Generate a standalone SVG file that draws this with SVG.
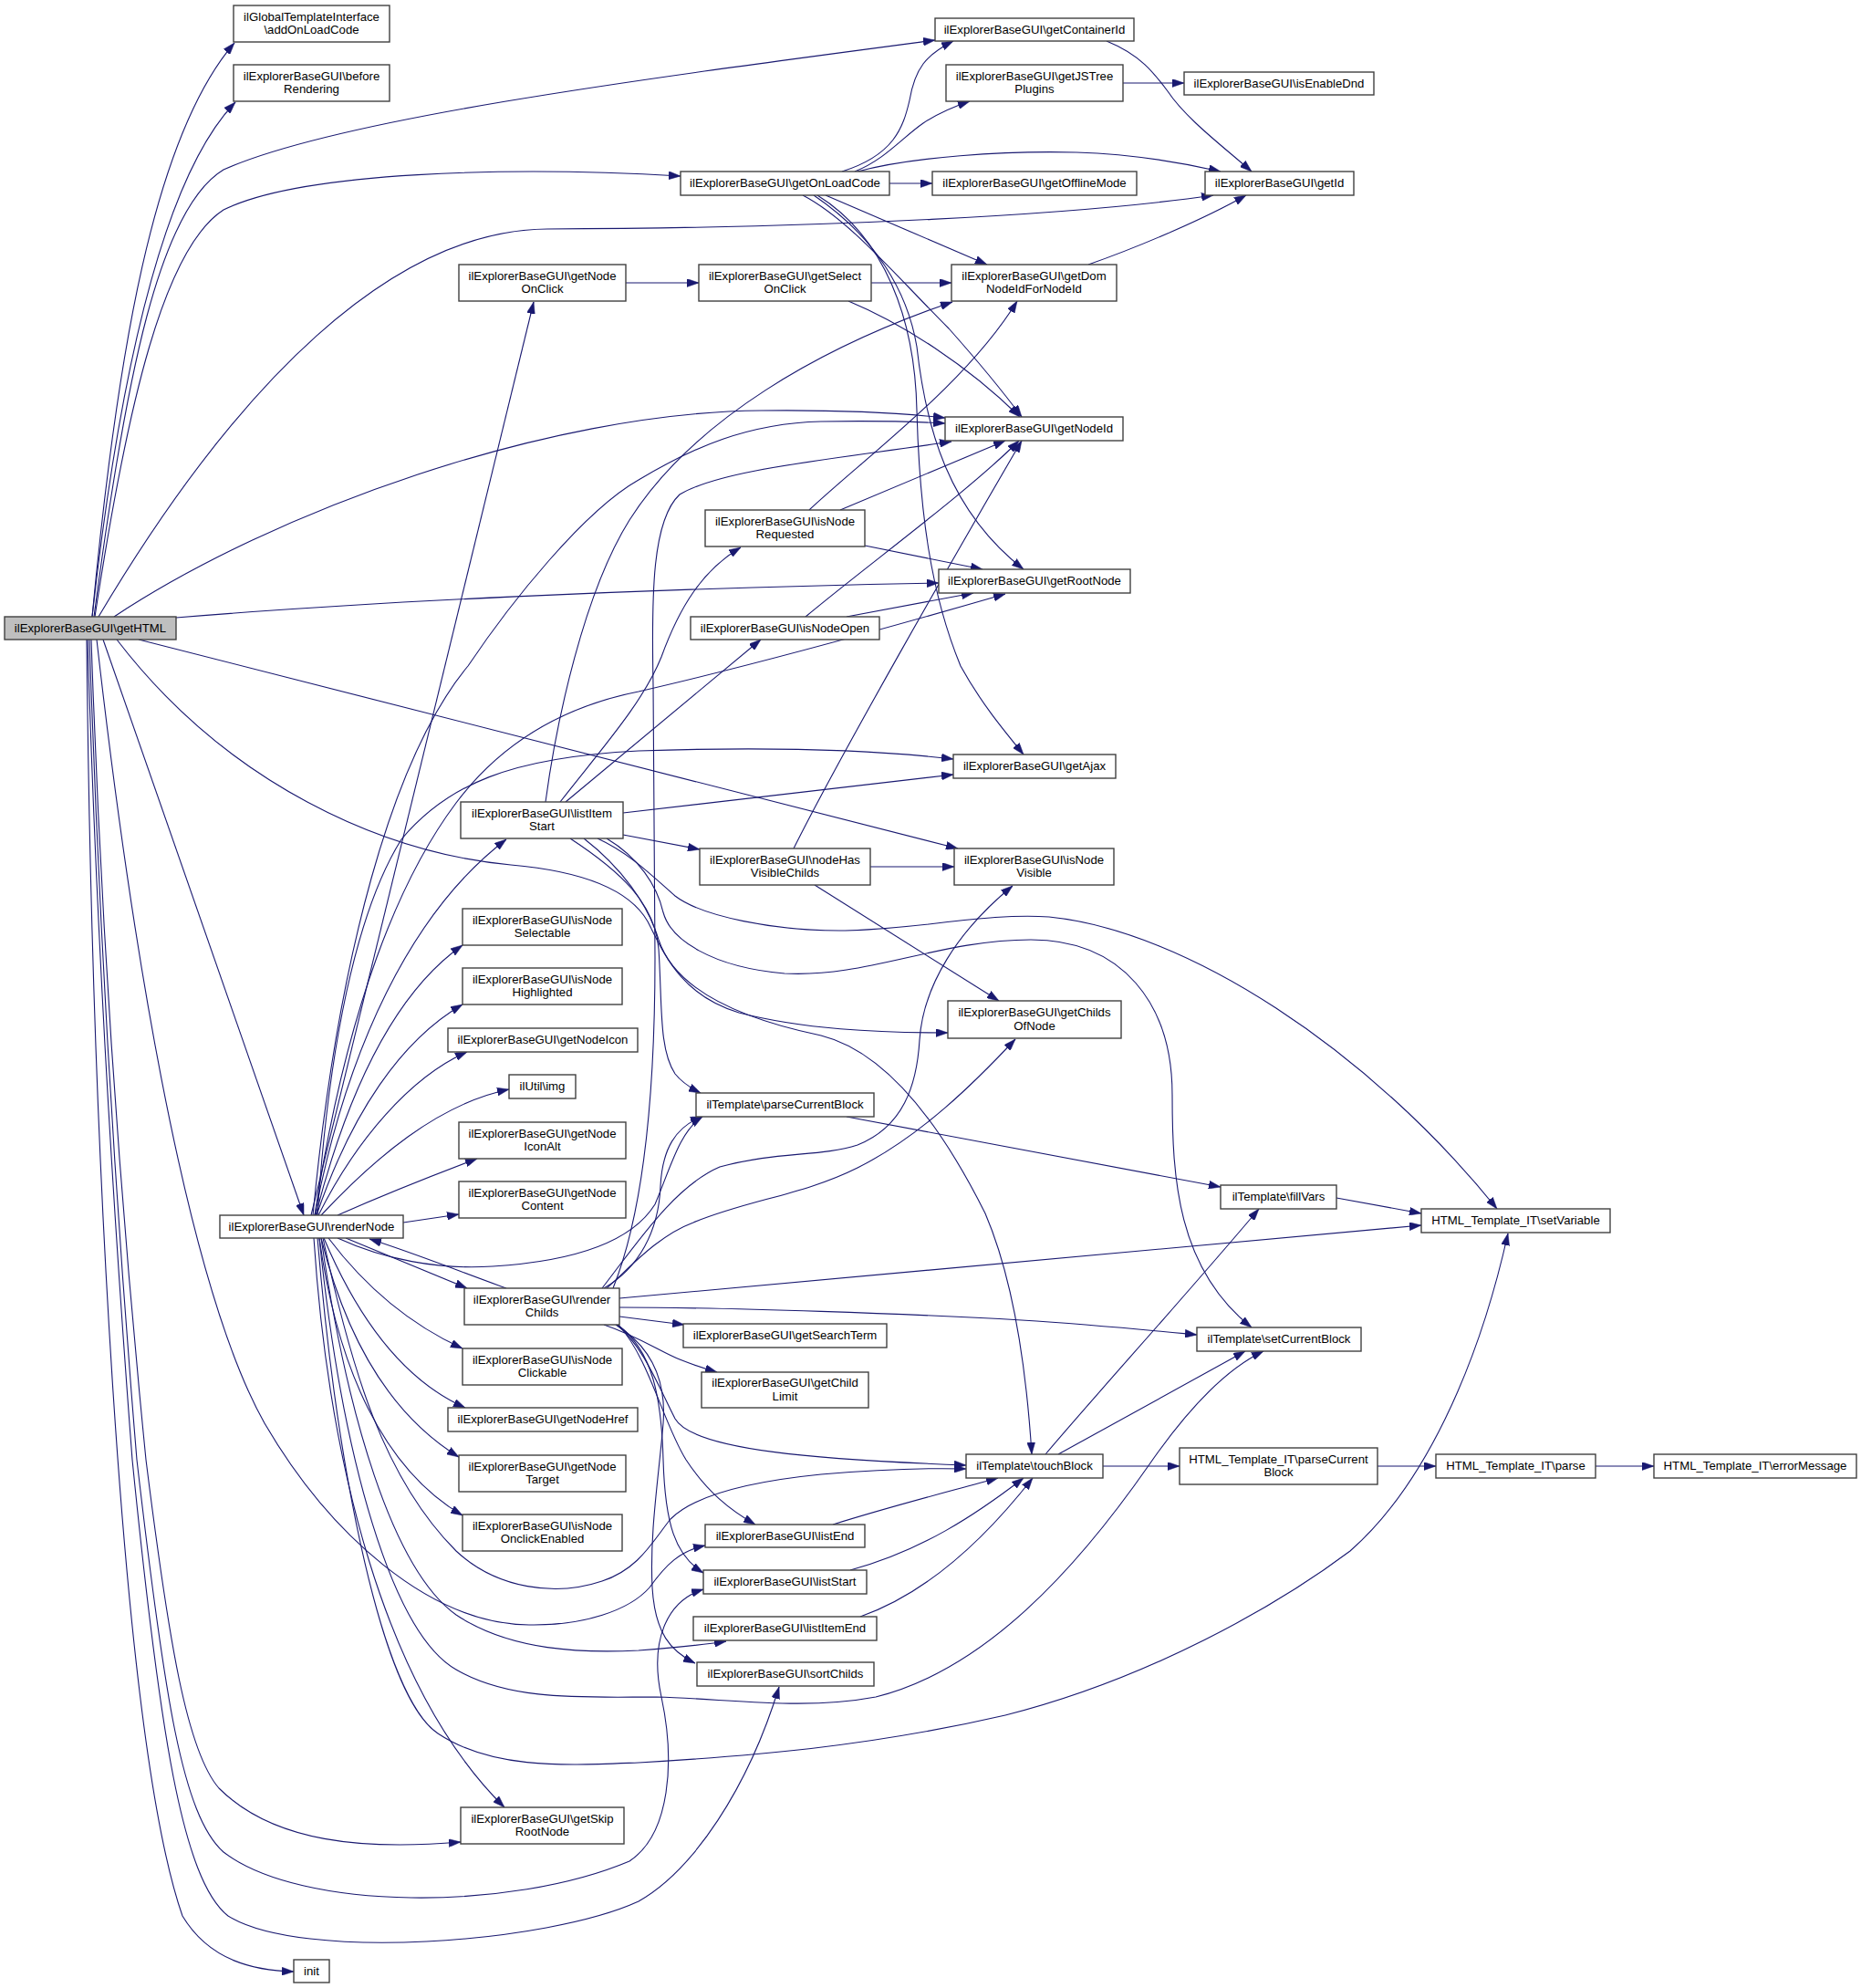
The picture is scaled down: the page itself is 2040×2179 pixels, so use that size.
<svg xmlns="http://www.w3.org/2000/svg" width="2040" height="2179" viewBox="0 0 2040 2179">
<style>
.n rect{fill:#ffffff;stroke:#404040;stroke-width:1.4}
.n.root rect{fill:#bfbfbf}
.n text{font-family:"Liberation Sans",Arial,Helvetica,sans-serif;font-size:13.2px;text-anchor:middle;fill:#000000}
#edges path{fill:none;stroke:#191970;stroke-width:1.1;marker-end:url(#arr)}
</style>
<defs>
<marker id="arr" markerUnits="userSpaceOnUse" markerWidth="13" markerHeight="9" refX="13" refY="4.5" orient="auto">
<path d="M0,0 L13,4.5 L0,9 Z" fill="#191970" stroke="#191970" stroke-width="0.5"/>
</marker>
</defs>
<rect width="2040" height="2179" fill="#ffffff"/>
<g id="edges">
<path d="M101,676 C128,390 168,150 257,47"/>
<path d="M101,676 C124,470 168,205 258,112"/>
<path d="M103,676 C138,410 175,228 245,186 C370,130 700,87 1025,44"/>
<path d="M104,676 C140,440 180,272 245,230 C330,188 560,182 746,193"/>
<path d="M108,676 C260,420 430,252 600,251 C900,250 1180,236 1330,214"/>
<path d="M125,676 C300,560 600,452 834,450 C920,449 990,453 1036,458"/>
<path d="M193,677 C400,660 700,645 1029,639"/>
<path d="M152,701 L1050,930"/>
<path d="M113,701 L333,1332"/>
<path d="M128,701 C250,860 420,935 560,948 C640,955 690,975 710,1010 C728,1045 745,1090 810,1110 C880,1128 960,1132 1039,1132"/>
<path d="M100,701 C110,1000 130,1300 160,1600 C185,1800 205,1920 240,1960 C300,2020 400,2028 505,2019"/>
<path d="M98,701 C108,1000 125,1300 150,1600 C180,1860 200,1990 245,2030 C330,2095 560,2095 690,2040 C735,2010 740,1930 725,1860 C712,1800 730,1755 771,1742"/>
<path d="M96,701 C105,1000 122,1300 145,1600 C175,1900 200,2060 250,2100 C330,2150 600,2130 700,2084 C760,2050 820,1960 854,1849"/>
<path d="M95,701 C100,1200 130,1900 200,2100 C230,2150 280,2160 322,2161"/>
<path d="M106,701 C140,1000 200,1400 290,1560 C360,1680 470,1780 580,1781 C640,1782 690,1765 712,1740 C730,1715 745,1700 773,1694"/>
<path d="M341,1332 L585,331"/>
<path d="M343,1332 C370,1050 430,830 513,730 C560,660 640,560 700,526 C760,490 820,464 900,462 C960,461 1000,462 1036,464"/>
<path d="M345,1332 C380,1100 440,960 500,880 C560,800 640,770 700,758 C800,735 950,695 1102,651"/>
<path d="M348,1332 C360,1150 390,1000 440,920 C490,860 560,830 700,823 C850,818 960,822 1045,832"/>
<path d="M345,1332 C380,1150 450,1000 555,920"/>
<path d="M346,1332 C380,1200 430,1090 507,1036"/>
<path d="M347,1332 C385,1220 440,1140 507,1101"/>
<path d="M349,1332 C390,1250 450,1180 512,1153"/>
<path d="M352,1332 C410,1270 480,1210 558,1194"/>
<path d="M370,1332 C420,1310 470,1290 523,1270"/>
<path d="M442,1340 L503,1331"/>
<path d="M379,1357 L512,1412"/>
<path d="M555,1412 C500,1392 450,1372 405,1358"/>
<path d="M370,1357 C420,1380 480,1392 540,1388 C620,1383 690,1365 718,1320 C735,1280 745,1240 770,1224"/>
<path d="M360,1357 C400,1410 450,1452 507,1478"/>
<path d="M355,1357 C390,1440 440,1512 510,1543"/>
<path d="M352,1357 C380,1470 430,1552 503,1597"/>
<path d="M350,1357 C370,1500 420,1610 507,1661"/>
<path d="M344,1357 C360,1600 420,1850 553,1981"/>
<path d="M354,1357 C385,1500 420,1620 500,1700 C545,1742 610,1750 660,1733 C700,1720 715,1690 735,1665 C760,1640 820,1624 900,1616 C970,1610 1020,1609 1059,1610"/>
<path d="M352,1357 C380,1550 430,1720 500,1770 C560,1810 640,1812 700,1809 C740,1806 770,1803 796,1799"/>
<path d="M350,1357 C375,1600 430,1790 500,1830 C560,1865 640,1860 720,1860 C800,1862 880,1875 960,1860 C1080,1830 1180,1720 1260,1605 C1305,1540 1345,1500 1385,1481"/>
<path d="M348,1357 C370,1620 420,1860 480,1900 C540,1940 620,1935 700,1932 C820,1925 950,1915 1102,1880 C1260,1840 1400,1760 1480,1700 C1560,1630 1620,1500 1653,1352"/>
<path d="M672,1412 C705,1330 718,1200 718,1050 L716,750 C714,650 715,570 745,542 C790,515 900,505 1043,484"/>
<path d="M660,1412 C700,1360 740,1300 789,1279 C850,1262 900,1268 940,1255 C990,1235 1005,1190 1008,1140 C1012,1080 1050,1020 1110,971"/>
<path d="M665,1412 C690,1390 720,1355 760,1340 C820,1315 880,1310 940,1280 C1010,1245 1070,1185 1113,1139"/>
<path d="M662,1412 C700,1390 722,1350 724,1300 C726,1260 740,1235 770,1224"/>
<path d="M679,1423 L1558,1343"/>
<path d="M679,1433 C800,1433 1000,1440 1120,1447 C1200,1452 1260,1458 1312,1463"/>
<path d="M679,1443 L750,1452"/>
<path d="M662,1452 C700,1465 725,1482 745,1490 C760,1496 772,1500 786,1504"/>
<path d="M676,1452 C705,1475 722,1520 740,1555 C760,1590 900,1600 1059,1606"/>
<path d="M678,1452 C712,1490 727,1560 752,1600 C775,1635 800,1655 828,1671"/>
<path d="M677,1452 C715,1480 725,1530 727,1600 C729,1670 740,1705 771,1724"/>
<path d="M675,1452 C720,1480 730,1520 727,1560 C722,1620 712,1680 715,1740 C718,1790 735,1810 762,1823"/>
<path d="M598,879 C610,790 640,650 690,570 C760,460 900,380 1044,331"/>
<path d="M614,879 C660,820 705,770 725,720 C745,665 770,625 812,600"/>
<path d="M620,879 L834,701"/>
<path d="M683,891 L1045,849"/>
<path d="M683,915 L767,931"/>
<path d="M655,919 C690,935 715,960 740,982 C770,1005 850,1020 920,1020 C1000,1020 1080,1000 1150,1005 C1300,1020 1500,1150 1641,1325"/>
<path d="M665,919 C700,940 720,970 727,1000 C735,1030 780,1060 860,1067 C950,1072 1030,1030 1130,1030 C1230,1030 1285,1100 1285,1200 C1285,1290 1290,1390 1372,1455"/>
<path d="M640,919 C680,950 710,990 722,1030 C735,1070 780,1110 900,1135 C980,1155 1040,1250 1080,1330 C1110,1400 1125,1500 1131,1594"/>
<path d="M625,919 C680,955 718,990 722,1040 C726,1100 722,1150 740,1177 C748,1187 758,1193 768,1198"/>
<path d="M923,188 C980,170 990,140 997,110 C1003,75 1015,60 1045,45"/>
<path d="M937,188 C970,175 990,150 1012,135 C1030,123 1045,117 1063,111"/>
<path d="M975,201 L1022,201"/>
<path d="M940,188 C1000,172 1100,165 1180,167 C1240,169 1295,178 1338,188"/>
<path d="M905,214 L1082,290"/>
<path d="M880,214 C930,240 980,300 1040,360 C1080,405 1100,430 1120,457"/>
<path d="M892,214 C960,260 995,320 1005,380 C1015,470 1040,560 1122,624"/>
<path d="M896,214 C970,260 1003,350 1005,450 C1008,560 1020,650 1053,730 C1075,770 1100,800 1122,827"/>
<path d="M686,310 L766,310"/>
<path d="M955,310 L1043,310"/>
<path d="M930,330 C990,355 1060,400 1118,457"/>
<path d="M887,559 C950,500 1060,420 1115,330"/>
<path d="M921,559 L1102,483"/>
<path d="M948,598 L1077,624"/>
<path d="M883,676 C950,620 1060,540 1117,483"/>
<path d="M928,676 L1067,650"/>
<path d="M954,950 L1046,950"/>
<path d="M893,970 L1095,1097"/>
<path d="M870,930 C920,830 1040,620 1120,483"/>
<path d="M1231,91 L1298,91"/>
<path d="M1213,45 C1250,60 1265,80 1280,100 C1300,130 1340,160 1372,188"/>
<path d="M1193,290 C1250,270 1320,240 1366,214"/>
<path d="M928,1224 L1338,1301"/>
<path d="M1465,1313 L1558,1330"/>
<path d="M1146,1594 C1200,1530 1300,1420 1380,1325"/>
<path d="M1160,1594 L1365,1481"/>
<path d="M1209,1607 L1293,1607"/>
<path d="M913,1671 C980,1650 1040,1635 1094,1620"/>
<path d="M932,1721 C1010,1700 1070,1660 1122,1620"/>
<path d="M943,1772 C1020,1745 1085,1680 1132,1620"/>
<path d="M1510,1607 L1574,1607"/>
<path d="M1749,1607 L1813,1607"/>
</g>
<g id="getHTML" class="n root"><rect x="5" y="676" width="188" height="25"/><text x="99" y="692.8">ilExplorerBaseGUI\getHTML</text></g>
<g id="addOnLoadCode" class="n"><rect x="256" y="6" width="171" height="40"/><text x="341.5" y="22.5">ilGlobalTemplateInterface</text><text x="341.5" y="37.3">\addOnLoadCode</text></g>
<g id="beforeRendering" class="n"><rect x="256" y="71" width="171" height="40"/><text x="341.5" y="87.5">ilExplorerBaseGUI\before</text><text x="341.5" y="102.3">Rendering</text></g>
<g id="renderNode" class="n"><rect x="241" y="1332" width="201" height="25"/><text x="341.5" y="1348.8">ilExplorerBaseGUI\renderNode</text></g>
<g id="init" class="n"><rect x="322" y="2148" width="39" height="25"/><text x="341.5" y="2164.8">init</text></g>
<g id="getNodeOnClick" class="n"><rect x="503" y="290" width="183" height="40"/><text x="594.5" y="306.5">ilExplorerBaseGUI\getNode</text><text x="594.5" y="321.3">OnClick</text></g>
<g id="listItemStart" class="n"><rect x="505" y="879" width="178" height="40"/><text x="594" y="895.5">ilExplorerBaseGUI\listItem</text><text x="594" y="910.3">Start</text></g>
<g id="isNodeSelectable" class="n"><rect x="507" y="996" width="175" height="40"/><text x="594.5" y="1012.5">ilExplorerBaseGUI\isNode</text><text x="594.5" y="1027.3">Selectable</text></g>
<g id="isNodeHighlighted" class="n"><rect x="507" y="1061" width="175" height="40"/><text x="594.5" y="1077.5">ilExplorerBaseGUI\isNode</text><text x="594.5" y="1092.3">Highlighted</text></g>
<g id="getNodeIcon" class="n"><rect x="491" y="1127" width="208" height="26"/><text x="595" y="1144.3">ilExplorerBaseGUI\getNodeIcon</text></g>
<g id="img" class="n"><rect x="558" y="1178" width="73" height="26"/><text x="594.5" y="1195.3">ilUtil\img</text></g>
<g id="getNodeIconAlt" class="n"><rect x="503" y="1230" width="183" height="40"/><text x="594.5" y="1246.5">ilExplorerBaseGUI\getNode</text><text x="594.5" y="1261.3">IconAlt</text></g>
<g id="getNodeContent" class="n"><rect x="503" y="1295" width="183" height="40"/><text x="594.5" y="1311.5">ilExplorerBaseGUI\getNode</text><text x="594.5" y="1326.3">Content</text></g>
<g id="renderChilds" class="n"><rect x="509" y="1412" width="170" height="40"/><text x="594" y="1428.5">ilExplorerBaseGUI\render</text><text x="594" y="1443.3">Childs</text></g>
<g id="isNodeClickable" class="n"><rect x="507" y="1478" width="175" height="40"/><text x="594.5" y="1494.5">ilExplorerBaseGUI\isNode</text><text x="594.5" y="1509.3">Clickable</text></g>
<g id="getNodeHref" class="n"><rect x="491" y="1543" width="208" height="26"/><text x="595" y="1560.3">ilExplorerBaseGUI\getNodeHref</text></g>
<g id="getNodeTarget" class="n"><rect x="503" y="1595" width="183" height="40"/><text x="594.5" y="1611.5">ilExplorerBaseGUI\getNode</text><text x="594.5" y="1626.3">Target</text></g>
<g id="isNodeOnclickEnabled" class="n"><rect x="507" y="1660" width="175" height="40"/><text x="594.5" y="1676.5">ilExplorerBaseGUI\isNode</text><text x="594.5" y="1691.3">OnclickEnabled</text></g>
<g id="getSkipRootNode" class="n"><rect x="505" y="1981" width="179" height="40"/><text x="594.5" y="1997.5">ilExplorerBaseGUI\getSkip</text><text x="594.5" y="2012.3">RootNode</text></g>
<g id="getOnLoadCode" class="n"><rect x="746" y="188" width="229" height="26"/><text x="860.5" y="205.3">ilExplorerBaseGUI\getOnLoadCode</text></g>
<g id="getSelectOnClick" class="n"><rect x="766" y="290" width="189" height="40"/><text x="860.5" y="306.5">ilExplorerBaseGUI\getSelect</text><text x="860.5" y="321.3">OnClick</text></g>
<g id="isNodeRequested" class="n"><rect x="773" y="559" width="175" height="40"/><text x="860.5" y="575.5">ilExplorerBaseGUI\isNode</text><text x="860.5" y="590.3">Requested</text></g>
<g id="isNodeOpen" class="n"><rect x="757" y="676" width="207" height="25"/><text x="860.5" y="692.8">ilExplorerBaseGUI\isNodeOpen</text></g>
<g id="nodeHasVisibleChilds" class="n"><rect x="767" y="930" width="187" height="40"/><text x="860.5" y="946.5">ilExplorerBaseGUI\nodeHas</text><text x="860.5" y="961.3">VisibleChilds</text></g>
<g id="parseCurrentBlock" class="n"><rect x="763" y="1198" width="195" height="26"/><text x="860.5" y="1215.3">ilTemplate\parseCurrentBlock</text></g>
<g id="getSearchTerm" class="n"><rect x="749" y="1451" width="223" height="26"/><text x="860.5" y="1468.3">ilExplorerBaseGUI\getSearchTerm</text></g>
<g id="getChildLimit" class="n"><rect x="769" y="1504" width="183" height="39"/><text x="860.5" y="1520">ilExplorerBaseGUI\getChild</text><text x="860.5" y="1534.8">Limit</text></g>
<g id="listEnd" class="n"><rect x="773" y="1671" width="175" height="25"/><text x="860.5" y="1687.8">ilExplorerBaseGUI\listEnd</text></g>
<g id="listStart" class="n"><rect x="771" y="1721" width="179" height="26"/><text x="860.5" y="1738.3">ilExplorerBaseGUI\listStart</text></g>
<g id="listItemEnd" class="n"><rect x="760" y="1772" width="201" height="26"/><text x="860.5" y="1789.3">ilExplorerBaseGUI\listItemEnd</text></g>
<g id="sortChilds" class="n"><rect x="764" y="1822" width="194" height="26"/><text x="861" y="1839.3">ilExplorerBaseGUI\sortChilds</text></g>
<g id="getContainerId" class="n"><rect x="1025" y="20" width="218" height="25"/><text x="1134" y="36.8">ilExplorerBaseGUI\getContainerId</text></g>
<g id="getJSTreePlugins" class="n"><rect x="1037" y="71" width="194" height="40"/><text x="1134" y="87.5">ilExplorerBaseGUI\getJSTree</text><text x="1134" y="102.3">Plugins</text></g>
<g id="getOfflineMode" class="n"><rect x="1022" y="188" width="224" height="26"/><text x="1134" y="205.3">ilExplorerBaseGUI\getOfflineMode</text></g>
<g id="getDomNodeIdForNodeId" class="n"><rect x="1043" y="290" width="181" height="40"/><text x="1133.5" y="306.5">ilExplorerBaseGUI\getDom</text><text x="1133.5" y="321.3">NodeIdForNodeId</text></g>
<g id="getNodeId" class="n"><rect x="1036" y="457" width="195" height="26"/><text x="1133.5" y="474.3">ilExplorerBaseGUI\getNodeId</text></g>
<g id="getRootNode" class="n"><rect x="1029" y="624" width="210" height="26"/><text x="1134" y="641.3">ilExplorerBaseGUI\getRootNode</text></g>
<g id="getAjax" class="n"><rect x="1045" y="827" width="178" height="26"/><text x="1134" y="844.3">ilExplorerBaseGUI\getAjax</text></g>
<g id="isNodeVisible" class="n"><rect x="1046" y="930" width="175" height="40"/><text x="1133.5" y="946.5">ilExplorerBaseGUI\isNode</text><text x="1133.5" y="961.3">Visible</text></g>
<g id="getChildsOfNode" class="n"><rect x="1039" y="1097" width="190" height="41"/><text x="1134" y="1114">ilExplorerBaseGUI\getChilds</text><text x="1134" y="1128.8">OfNode</text></g>
<g id="touchBlock" class="n"><rect x="1059" y="1594" width="150" height="26"/><text x="1134" y="1611.3">ilTemplate\touchBlock</text></g>
<g id="isEnableDnd" class="n"><rect x="1298" y="79" width="208" height="25"/><text x="1402" y="95.8">ilExplorerBaseGUI\isEnableDnd</text></g>
<g id="getId" class="n"><rect x="1321" y="188" width="163" height="26"/><text x="1402.5" y="205.3">ilExplorerBaseGUI\getId</text></g>
<g id="fillVars" class="n"><rect x="1338" y="1299" width="127" height="26"/><text x="1401.5" y="1316.3">ilTemplate\fillVars</text></g>
<g id="setCurrentBlock" class="n"><rect x="1312" y="1455" width="180" height="26"/><text x="1402" y="1472.3">ilTemplate\setCurrentBlock</text></g>
<g id="itParseCurrentBlock" class="n"><rect x="1293" y="1587" width="217" height="40"/><text x="1401.5" y="1603.5">HTML_Template_IT\parseCurrent</text><text x="1401.5" y="1618.3">Block</text></g>
<g id="setVariable" class="n"><rect x="1558" y="1325" width="207" height="26"/><text x="1661.5" y="1342.3">HTML_Template_IT\setVariable</text></g>
<g id="parse" class="n"><rect x="1574" y="1594" width="175" height="26"/><text x="1661.5" y="1611.3">HTML_Template_IT\parse</text></g>
<g id="errorMessage" class="n"><rect x="1813" y="1594" width="222" height="26"/><text x="1924" y="1611.3">HTML_Template_IT\errorMessage</text></g>
</svg>
